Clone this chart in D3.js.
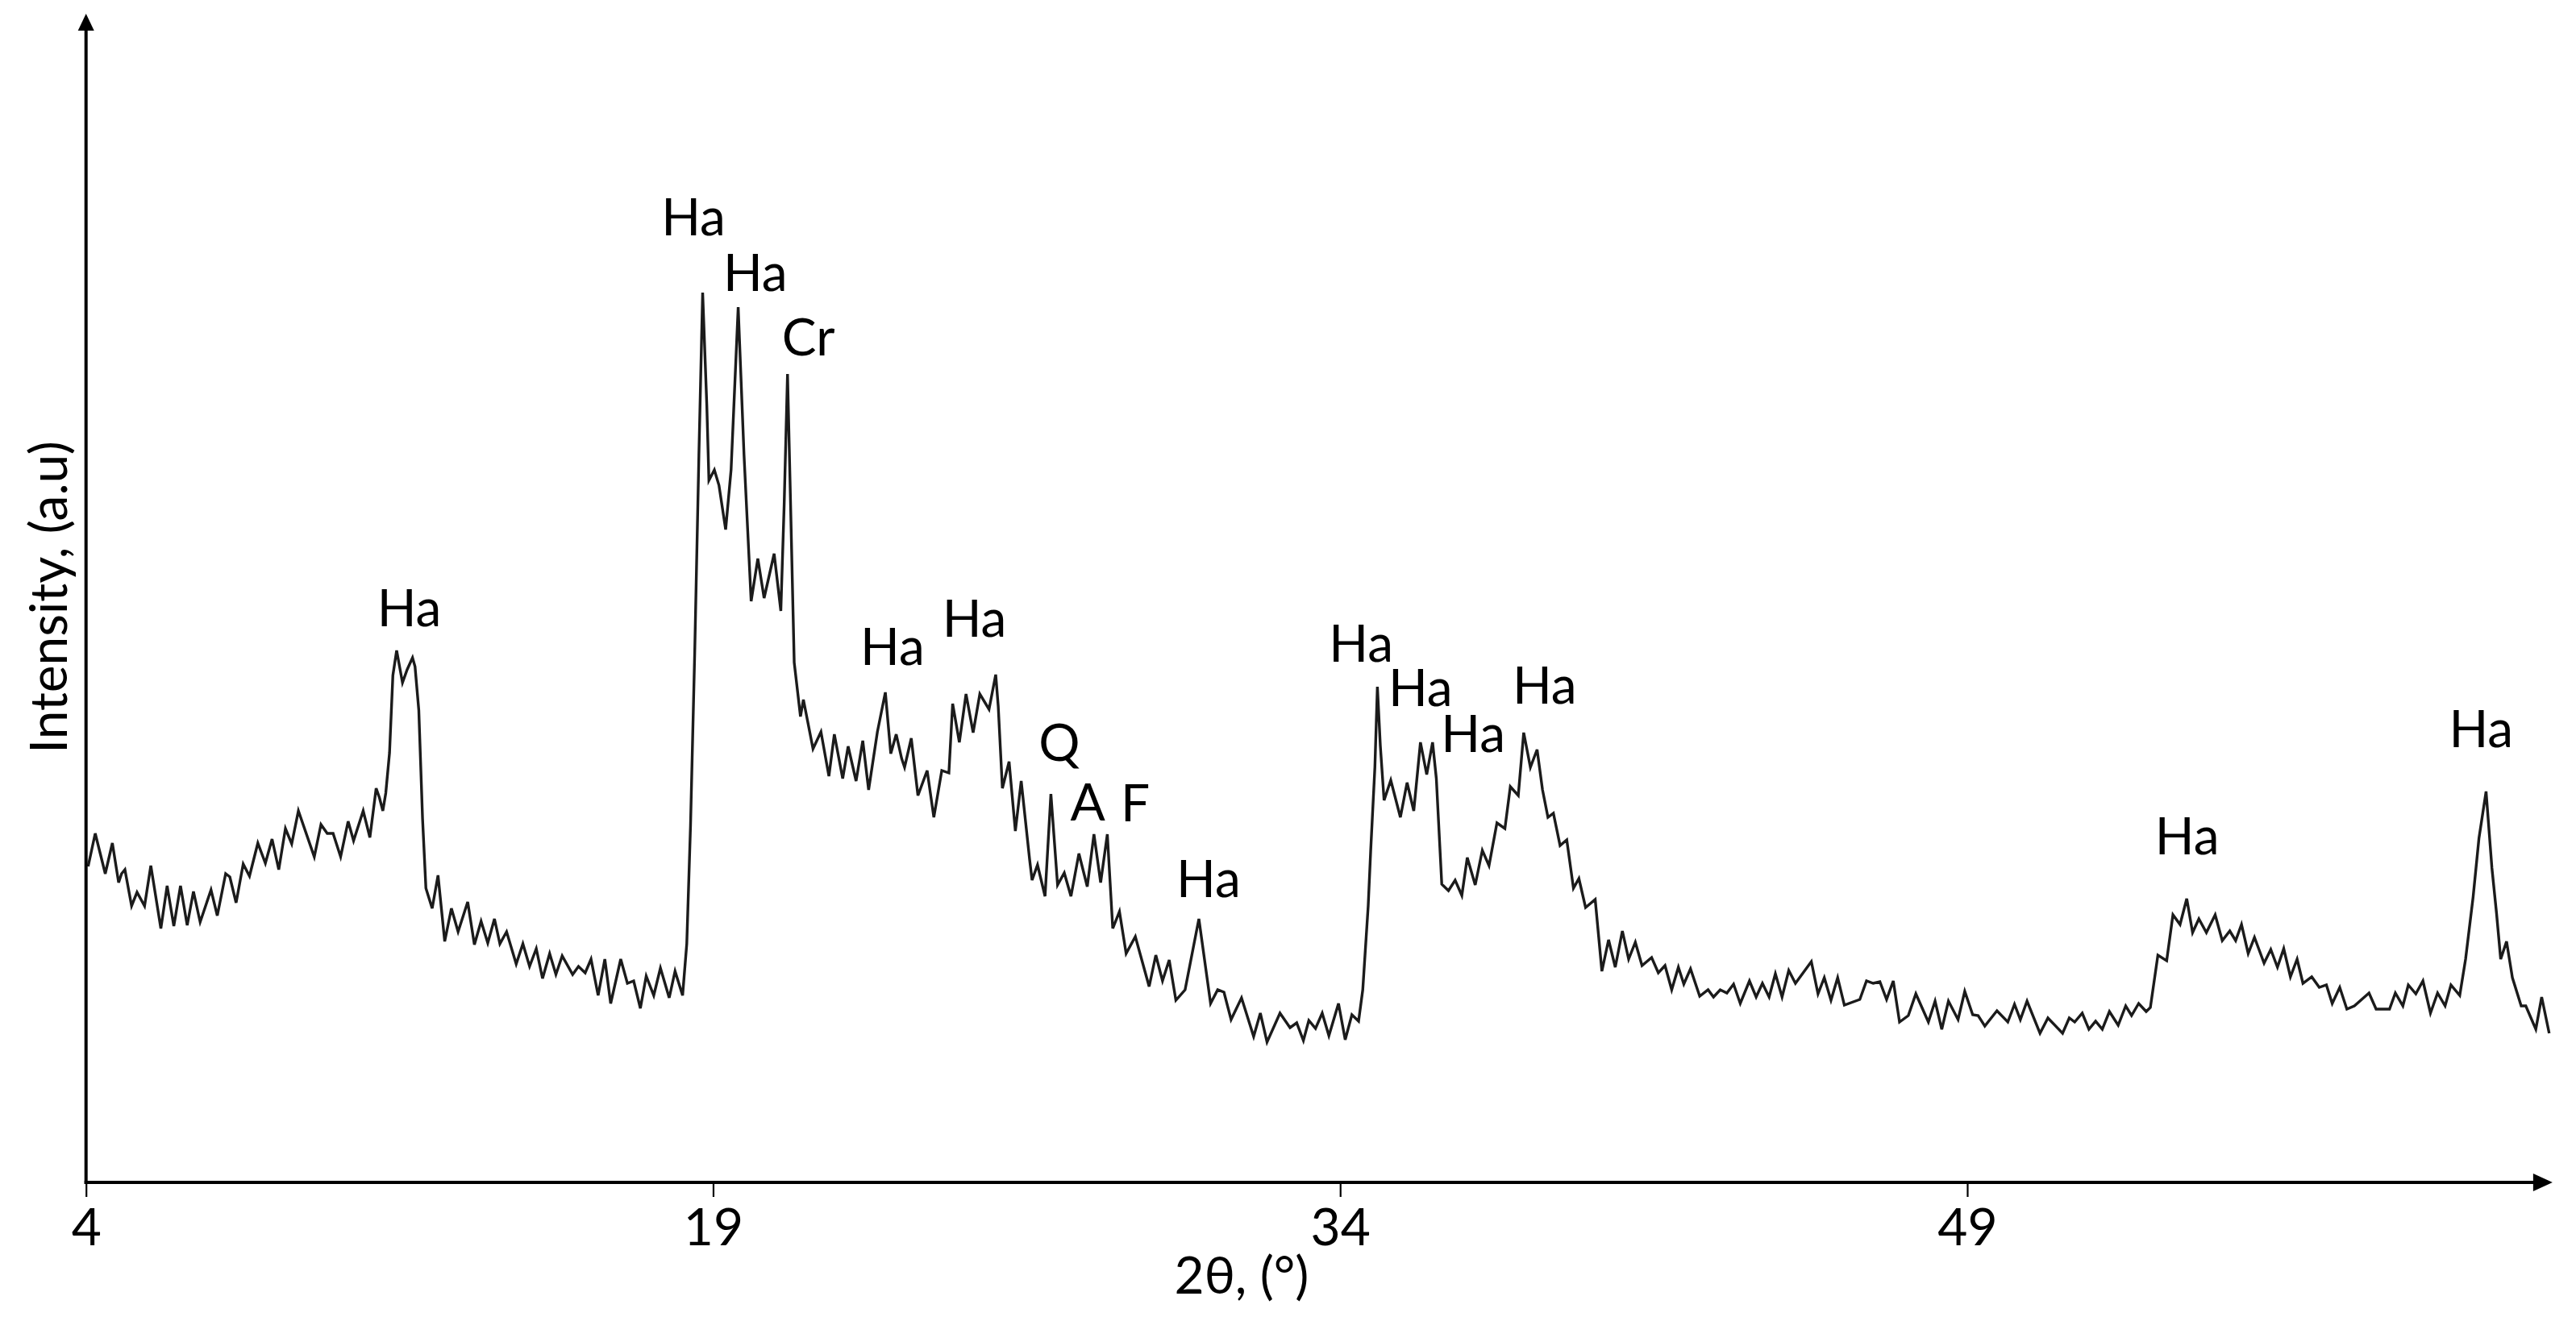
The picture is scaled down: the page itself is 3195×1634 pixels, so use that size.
<!DOCTYPE html>
<html><head><meta charset="utf-8">
<script src="https://cdn.jsdelivr.net/npm/d3@7"></script>
<style>html,body{margin:0;padding:0;background:#fff}svg{display:block}</style>
</head><body>
<svg id="chart" width="3195" height="1634"></svg>
<script>
// ---- data ----
const twoTheta = [4.05,4.22,4.46,4.63,4.78,4.85,4.93,5.09,5.22,5.40,5.55,5.79,5.94,6.10,6.26,6.42,6.57,6.73,6.99,7.14,7.34,7.44,7.59,7.76,7.91,8.11,8.29,8.45,8.61,8.77,8.92,9.08,9.46,9.62,9.77,9.91,10.09,10.27,10.40,10.63,10.79,10.94,11.02,11.10,11.17,11.26,11.34,11.43,11.57,11.68,11.81,11.87,11.96,12.05,12.13,12.28,12.42,12.58,12.74,12.90,13.13,13.29,13.45,13.61,13.77,13.90,14.06,14.29,14.45,14.61,14.77,14.92,15.09,15.24,15.39,15.64,15.78,15.94,16.08,16.25,16.41,16.55,16.79,16.95,17.10,17.26,17.40,17.58,17.74,17.95,18.09,18.27,18.37,18.46,18.56,18.66,18.75,18.85,18.90,19.03,19.14,19.30,19.43,19.60,19.74,19.91,20.07,20.22,20.46,20.62,20.70,20.78,20.84,20.94,21.09,21.16,21.39,21.58,21.77,21.90,22.10,22.23,22.42,22.58,22.72,22.93,23.12,23.25,23.38,23.51,23.58,23.74,23.90,24.12,24.28,24.47,24.64,24.73,24.89,25.05,25.22,25.38,25.60,25.76,25.82,25.92,26.08,26.23,26.37,26.57,26.63,26.76,26.94,27.08,27.24,27.40,27.56,27.75,27.95,28.11,28.27,28.43,28.56,28.72,28.88,29.10,29.43,29.59,29.75,29.91,30.07,30.29,30.62,30.90,31.07,31.22,31.39,31.64,31.93,32.09,32.25,32.56,32.80,32.96,33.12,33.25,33.41,33.57,33.73,33.96,34.12,34.28,34.44,34.54,34.67,34.73,34.83,34.89,34.96,35.05,35.21,35.44,35.60,35.76,35.92,36.07,36.21,36.30,36.43,36.59,36.75,36.91,37.04,37.23,37.40,37.56,37.75,37.94,38.07,38.26,38.39,38.55,38.71,38.84,38.97,39.10,39.26,39.42,39.58,39.71,39.87,40.10,40.26,40.42,40.58,40.75,40.90,41.06,41.22,41.45,41.61,41.77,41.93,42.09,42.22,42.38,42.60,42.80,42.93,43.09,43.25,43.41,43.57,43.79,43.95,44.10,44.26,44.41,44.57,44.73,44.89,45.27,45.43,45.58,45.74,45.90,46.06,46.43,46.59,46.75,46.91,47.07,47.23,47.38,47.59,47.77,48.07,48.23,48.39,48.55,48.78,48.94,49.13,49.26,49.42,49.71,49.97,50.13,50.27,50.43,50.74,50.93,51.28,51.44,51.57,51.75,51.91,52.07,52.23,52.40,52.61,52.79,52.93,53.10,53.28,53.38,53.56,53.77,53.92,54.09,54.25,54.39,54.54,54.72,54.93,55.10,55.28,55.42,55.56,55.72,55.87,56.10,56.26,56.42,56.57,56.73,56.89,57.03,57.24,57.42,57.59,57.73,57.91,58.08,58.26,58.61,58.78,59.10,59.24,59.42,59.55,59.73,59.90,60.08,60.25,60.43,60.57,60.78,60.92,61.10,61.24,61.41,61.55,61.66,61.76,61.90,62.04,62.25,62.36,62.60,62.74,62.92];
const intensity = [392,433,383,421,372,383,388,343,360,343,393,315,368,318,368,319,361,323,363,331,383,379,347,395,380,421,396,426,388,439,420,461,404,444,433,433,404,448,424,461,428,489,477,461,483,533,629,660,620,636,651,640,586,451,365,340,381,299,340,311,348,295,324,297,327,296,311,271,296,268,290,253,284,258,281,258,268,260,277,232,277,222,277,247,250,216,256,232,266,229,262,232,296,443,657,902,1104,963,871,884,865,810,884,1086,902,721,774,725,780,709,841,1003,871,645,578,599,538,559,504,556,501,541,498,548,487,559,608,532,556,526,515,551,480,511,453,511,508,594,546,606,558,606,587,630,591,489,522,436,498,401,375,394,355,482,369,384,355,408,367,432,372,432,315,336,284,305,243,282,250,276,226,239,327,222,239,236,202,229,181,210,174,210,192,198,176,201,191,210,182,222,177,208,200,239,343,412,515,615,542,474,499,453,496,461,546,506,546,501,370,362,375,356,403,369,412,393,446,439,491,480,558,515,537,487,453,458,418,425,365,377,341,351,262,301,267,312,277,298,269,279,260,269,239,267,246,265,231,239,230,239,235,246,222,250,230,247,230,259,230,263,247,274,234,254,226,254,220,227,250,247,249,227,250,199,207,234,199,225,190,225,202,237,208,207,194,213,199,221,202,225,185,204,185,204,199,210,190,200,190,212,195,219,207,222,212,217,282,275,332,320,352,310,327,310,332,300,312,300,320,284,304,272,289,267,290,255,277,247,255,242,245,222,242,215,219,235,215,215,235,219,245,234,250,210,235,219,245,232,277,354,427,485,390,334,277,299,254,219,219,190,230,185];

const xTicks = [4, 19, 34, 49];
const peakLabels = ["Ha","Ha","Ha","Cr","Ha","Ha","Q","A","F","Ha","Ha","Ha","Ha","Ha","Ha","Ha"];
const peakLabelTheta = [11.73,18.53,20.01,21.28,23.29,25.25,27.28,27.96,29.10,30.85,34.50,35.92,37.18,38.89,54.26,61.29];
const peakLabelLevel = [690,1175,1106,1026,642,677,523,449,448,354,646,591,534,594,407,540];
const xTitle = "2θ, (°)";
const yTitle = "Intensity, (a.u)";

// ---- drawing ----
const FONT = "Lato, 'Open Sans', sans-serif";
const FS = 64;
const svg = d3.select("#chart");
const x = d3.scaleLinear().domain([4, 63]).range([106.7, 3165.9]);
const y = d3.scaleLinear().domain([0, 1450]).range([1467, 17]);
const x0 = x.range()[0], yBase = y.range()[0];

// spectrum
const pts = twoTheta.map((t, i) => [t, intensity[i]]);
svg.append("path")
  .datum(pts)
  .attr("fill", "none")
  .attr("stroke", "#1b1b1b")
  .attr("stroke-width", 3.4)
  .attr("stroke-linejoin", "miter")
  .attr("stroke-miterlimit", 4)
  .attr("d", d3.line().x(d => x(d[0])).y(d => y(d[1])));

// x axis ticks and labels
const xAxis = d3.axisBottom(x).tickValues(xTicks).tickSize(18).tickFormat(d3.format("d"));
const gx = svg.append("g").attr("transform", `translate(0,${yBase})`).call(xAxis);
gx.select(".domain").remove();
gx.selectAll(".tick line").attr("stroke", "#000").attr("stroke-width", 2.2);
gx.selectAll(".tick text")
  .attr("fill", "#000")
  .attr("font-family", FONT)
  .attr("font-size", FS)
  .attr("dy", null)
  .attr("y", 78);

// axis lines with arrow heads
svg.append("line").attr("x1", x0).attr("x2", x0).attr("y1", yBase + 2).attr("y2", y.range()[1] + 14)
  .attr("stroke", "#000").attr("stroke-width", 4);
svg.append("line").attr("x1", x0 - 2).attr("x2", x.range()[1] - 16).attr("y1", yBase).attr("y2", yBase)
  .attr("stroke", "#000").attr("stroke-width", 4);
const yt = y.range()[1];
svg.append("path").attr("d", `M${x0},${yt} L${x0 - 10},${yt + 21} L${x0 + 10},${yt + 21} Z`).attr("fill", "#000");
const xt = x.range()[1];
svg.append("path").attr("d", `M${xt},${yBase} L${xt - 24},${yBase - 11} L${xt - 24},${yBase + 11} Z`).attr("fill", "#000");

// peak labels
svg.append("g").selectAll("text")
  .data(peakLabels)
  .join("text")
  .attr("x", (d, i) => x(peakLabelTheta[i]))
  .attr("y", (d, i) => y(peakLabelLevel[i]))
  .attr("text-anchor", "middle")
  .attr("font-family", FONT)
  .attr("font-size", FS)
  .attr("fill", "#000")
  .text(d => d);

// axis titles
svg.append("text")
  .attr("x", 1540).attr("y", 1605)
  .attr("text-anchor", "middle")
  .attr("font-family", FONT).attr("font-size", FS).attr("fill", "#000")
  .text(xTitle);
svg.append("text")
  .attr("transform", "translate(83,741) rotate(-90)")
  .attr("text-anchor", "middle")
  .attr("font-family", FONT).attr("font-size", FS).attr("fill", "#000")
  .text(yTitle);
</script>
</body></html>
